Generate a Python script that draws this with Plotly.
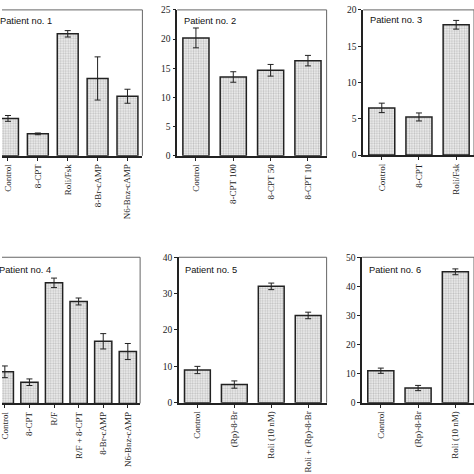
import plotly.graph_objects as go

W, H = 474, 474

# ---- data ----
p1_cats = ["Control", "8-CPT", "Roli/Fsk", "8-Br-cAMP", "N6-Bnz-cAMP"]
p1_vals = [6.4, 3.75, 20.9, 13.25, 10.2]
p1_errs = [0.5, 0.15, 0.55, 3.7, 1.2]

p2_cats = ["Control", "8-CPT 100", "8-CPT 50", "8-CPT 10"]
p2_vals = [20.2, 13.5, 14.65, 16.3]
p2_errs = [1.7, 0.9, 1.0, 0.9]

p3_cats = ["Control", "8-CPT", "Roli/Fsk"]
p3_vals = [6.5, 5.25, 17.95]
p3_errs = [0.65, 0.55, 0.6]

p4_cats = ["Control", "8-CPT", "R/F", "R/F + 8-CPT", "8-Br-cAMP", "N6-Bnz-cAMP"]
p4_vals = [8.65, 5.8, 33.0, 27.9, 17.0, 14.2]
p4_errs = [1.6, 0.9, 1.3, 0.95, 2.1, 2.2]

p5_cats = ["Control", "(Rp)-8-Br", "Roli (10 nM)", "Roli + (Rp)-8-Br"]
p5_vals = [9.0, 5.0, 32.0, 24.0]
p5_errs = [1.0, 1.0, 0.9, 0.9]

p6_cats = ["Control", "(Rp)-8-Br", "Roli (10 nM)"]
p6_vals = [11.0, 5.05, 45.0]
p6_errs = [0.9, 0.9, 1.0]

titles = ["Patient no. 1", "Patient no. 2", "Patient no. 3",
          "Patient no. 4", "Patient no. 5", "Patient no. 6"]

# panel geometry in pixels: x0, x1, ytop, ybottom, xrange, yrange, show y axis, dtick
panels = [
    (p1_cats, p1_vals, p1_errs, 0, 141, 5, 154, [-0.2, 4.5], [0, 25], False, 5),
    (p2_cats, p2_vals, p2_errs, 176, 326, 5, 154, [-0.5, 3.5], [0, 25], True, 5),
    (p3_cats, p3_vals, p3_errs, 362.7, 474, 5, 153.3, [-0.5, 2.48], [0, 20], True, 5),
    (p4_cats, p4_vals, p4_errs, 0, 138.7, 257.7, 407, [-0.115, 5.5], [0, 40], False, 10),
    (p5_cats, p5_vals, p5_errs, 177.7, 326, 257.7, 406.3, [-0.5, 3.5], [0, 40], True, 10),
    (p6_cats, p6_vals, p6_errs, 361.7, 474, 257.7, 406.3, [-0.5, 2.5], [0, 50], True, 10),
]
label_pos = [(-4, 16), (181, 16), (368, 15), (-5, 271), (181.5, 271), (367, 271)]

fig = go.Figure()
serif = "Liberation Serif, Times New Roman, serif"
layout = dict(width=W, height=H, margin=dict(l=0, r=0, t=0, b=0),
              paper_bgcolor="white", plot_bgcolor="white", showlegend=False)
shapes = []
annotations = []

for i, (cats, vals, errs, x0, x1, yt, yb, xr, yr, showy, dt) in enumerate(panels):
    n = i + 1
    xa = "x" if n == 1 else f"x{n}"
    ya = "y" if n == 1 else f"y{n}"
    fig.add_trace(go.Bar(
        x=cats, y=vals, xaxis=xa, yaxis=ya, width=0.7,
        marker=dict(color="#efefef",
                    line=dict(color="#222", width=1.5),
                    pattern=dict(shape=".", fgcolor="#8f8f8f", bgcolor="#f0f0f0",
                                 size=2.5, solidity=0.45)),
        error_y=dict(type="data", array=errs, visible=True, color="#222",
                     thickness=1, width=3),
    ))
    xkey = "xaxis" if n == 1 else f"xaxis{n}"
    ykey = "yaxis" if n == 1 else f"yaxis{n}"
    layout[xkey] = dict(domain=[x0 / W, x1 / W], anchor=ya, range=xr,
                        type="category", showline=True, linecolor="#222", linewidth=2,
                        ticks="outside", ticklen=3, tickcolor="#222", tickangle=-90,
                        tickfont=dict(family=serif, size=9, color="#222"),
                        showgrid=False, zeroline=False, fixedrange=True)
    layout[ykey] = dict(domain=[1 - yb / H, 1 - yt / H], anchor=xa, range=yr,
                        showline=showy, linecolor="#222", linewidth=1.5,
                        ticks="outside" if showy else "", ticklen=3, tickcolor="#222",
                        showticklabels=showy, dtick=dt,
                        tickfont=dict(family=serif, size=9.5, color="#222"),
                        showgrid=False, zeroline=False, fixedrange=True)
    # top and right frame lines
    shapes.append(dict(type="line", xref=f"{xa} domain", yref=f"{ya} domain",
                       x0=0, x1=1, y0=1, y1=1, line=dict(color="#666", width=1)))
    shapes.append(dict(type="line", xref=f"{xa} domain", yref=f"{ya} domain",
                       x0=1, x1=1, y0=0, y1=1, line=dict(color="#666", width=1)))
    lx, ly = label_pos[i]
    annotations.append(dict(text=titles[i], xref="paper", yref="paper",
                            x=lx / W, y=1 - ly / H, xanchor="left", yanchor="middle",
                            showarrow=False,
                            font=dict(family="Liberation Sans, Arial, sans-serif",
                                      size=9.3, color="#111")))

layout["shapes"] = shapes
layout["annotations"] = annotations
fig.update_layout(**layout)
fig.write_html("out.html", config={"displayModeBar": False},
               post_script="document.body.style.margin='0';document.body.style.overflow='hidden';")
